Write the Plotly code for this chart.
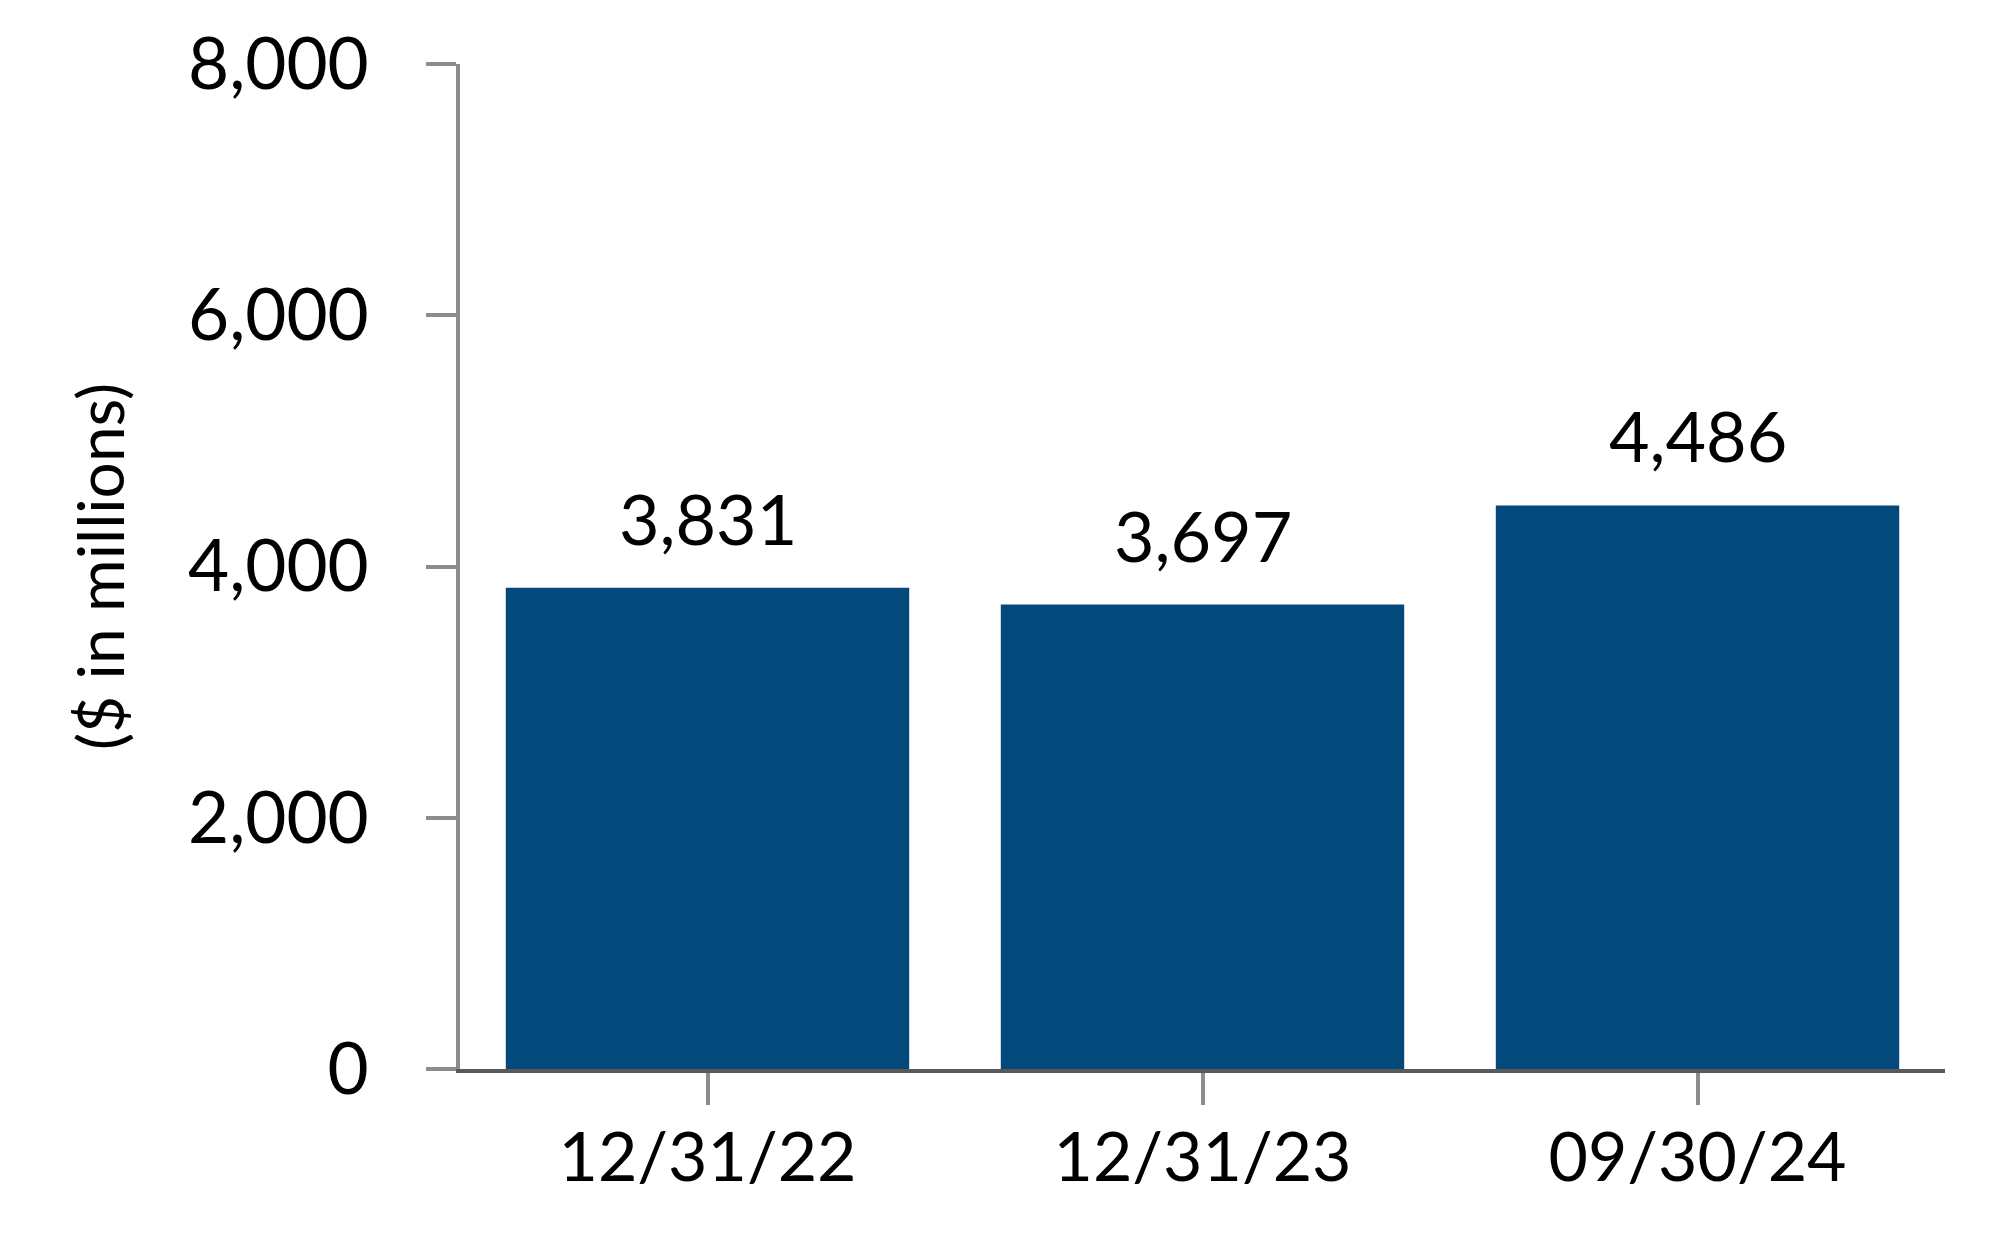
import plotly.graph_objects as go

categories = ["12/31/22", "12/31/23", "09/30/24"]
values = [3831, 3697, 4486]
value_labels = ["3,831", "3,697", "4,486"]
y_tickvals = [0, 2000, 4000, 6000, 8000]
y_ticktext = ["0", "2,000", "4,000", "6,000", "8,000"]

FONT = "Lato, 'Noto Sans', sans-serif"

fig = go.Figure()
fig.add_trace(go.Bar(
    x=categories, y=values,
    marker=dict(color="#03497C", line=dict(width=0)),
    hoverinfo="skip",
))

for c, v, t in zip(categories, values, value_labels):
    fig.add_annotation(
        x=c, y=v, text=t, showarrow=False,
        yanchor="bottom", yshift=26,
        font=dict(family=FONT, size=70, color="#000000"),
    )

fig.update_layout(
    width=2004, height=1260,
    margin=dict(l=452, r=67, t=56, b=199),
    paper_bgcolor="white", plot_bgcolor="white",
    bargap=0.185,
    showlegend=False,
    font=dict(family=FONT, color="#000000"),
)

fig.update_xaxes(
    showline=True, linecolor="#595959", linewidth=4,
    ticks="outside", ticklen=32, tickwidth=4, tickcolor="#8c8c8c",
    tickfont=dict(family=FONT, size=68, color="#000000"),
    ticklabelstandoff=-6,
    automargin=False,
    showgrid=False, zeroline=False,
)
fig.update_yaxes(
    range=[0, 8000],
    tickvals=y_tickvals, ticktext=y_ticktext,
    showline=True, linecolor="#8c8c8c", linewidth=4,
    ticks="outside", ticklen=30, tickwidth=4, tickcolor="#8c8c8c",
    tickfont=dict(family=FONT, size=71, color="#000000"),
    ticklabelstandoff=43,
    ticklabeloverflow="allow",
    automargin=False,
    showgrid=False, zeroline=False,
    title=dict(text="($ in millions)", font=dict(family=FONT, size=64, color="#000000"), standoff=44),
)

fig.write_html("out.html")
